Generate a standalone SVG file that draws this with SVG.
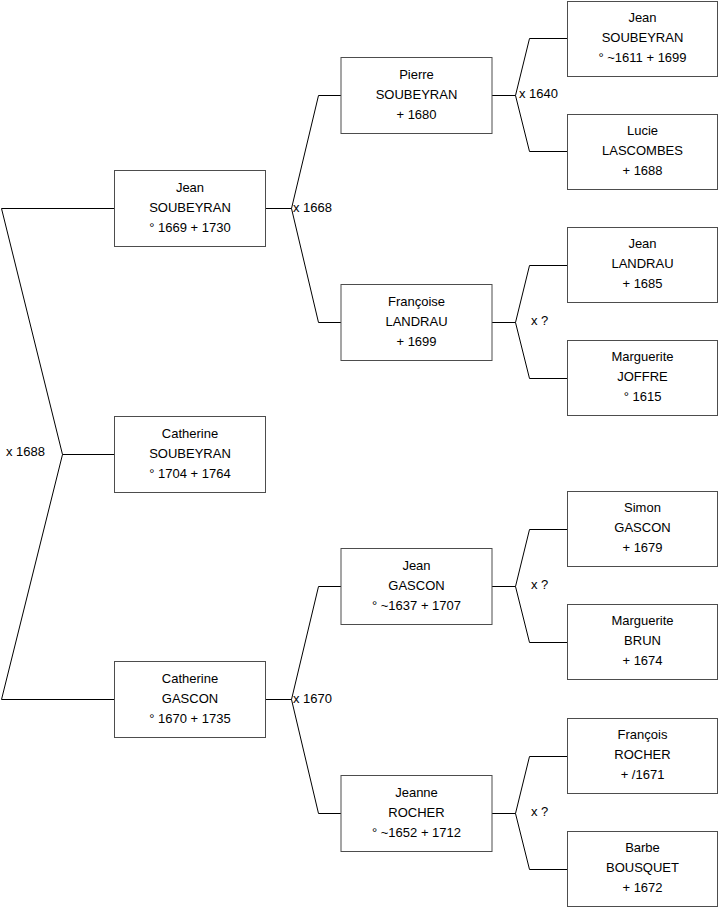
<svg xmlns="http://www.w3.org/2000/svg" width="719" height="908" viewBox="0 0 719 908">
<style>
.box{fill:#fff;stroke:#4d4d4d;stroke-width:1}
.t{font-family:"Liberation Sans",Arial,sans-serif;font-size:13px;fill:#000;text-anchor:middle;dominant-baseline:central}
.l{font-family:"Liberation Sans",Arial,sans-serif;font-size:13px;fill:#000;dominant-baseline:central}
.c{fill:none;stroke:#000;stroke-width:1}
</style>
<rect width="719" height="908" fill="#fff"/>
<g id="connectors">
<polyline class="c" points="114.5,208.5 1.5,208.5 62.5,454.5 1.5,699.5 114.5,699.5"/>
<line class="c" x1="62.5" y1="454.5" x2="114.5" y2="454.5"/>
<polyline class="c" points="341,95.5 318.5,95.5 291.5,208.5 318.5,322.5 341,322.5"/>
<line class="c" x1="265.5" y1="208.5" x2="291.5" y2="208.5"/>
<polyline class="c" points="341,586.5 318.5,586.5 291.5,699.5 318.5,813.5 341,813.5"/>
<line class="c" x1="265.5" y1="699.5" x2="291.5" y2="699.5"/>
<polyline class="c" points="567.5,38.5 529.5,38.5 515.5,95.5 529.5,151.5 567.5,151.5"/>
<line class="c" x1="492" y1="95.5" x2="515.5" y2="95.5"/>
<polyline class="c" points="567.5,265.5 529.5,265.5 515.5,322.5 529.5,378.5 567.5,378.5"/>
<line class="c" x1="492" y1="322.5" x2="515.5" y2="322.5"/>
<polyline class="c" points="567.5,529.5 529.5,529.5 515.5,586.5 529.5,642.5 567.5,642.5"/>
<line class="c" x1="492" y1="586.5" x2="515.5" y2="586.5"/>
<polyline class="c" points="567.5,756.5 529.5,756.5 515.5,813.5 529.5,869.5 567.5,869.5"/>
<line class="c" x1="492" y1="813.5" x2="515.5" y2="813.5"/>
<text class="l" x="6" y="451">x 1688</text>
<text class="l" x="293" y="207">x 1668</text>
<text class="l" x="293" y="698">x 1670</text>
<text class="l" x="519" y="93">x 1640</text>
<text class="l" x="531" y="320">x ?</text>
<text class="l" x="531" y="584">x ?</text>
<text class="l" x="531" y="811">x ?</text>
</g>
<g id="n1"><rect class="box" x="114.5" y="170.5" width="151" height="76"/><text class="t" x="190" y="187">Jean</text><text class="t" x="190" y="207">SOUBEYRAN</text><text class="t" x="190" y="227">° 1669 + 1730</text></g>
<g id="n2"><rect class="box" x="114.5" y="416.5" width="151" height="76"/><text class="t" x="190" y="433">Catherine</text><text class="t" x="190" y="453">SOUBEYRAN</text><text class="t" x="190" y="473">° 1704 + 1764</text></g>
<g id="n3"><rect class="box" x="114.5" y="661.5" width="151" height="76"/><text class="t" x="190" y="678">Catherine</text><text class="t" x="190" y="698">GASCON</text><text class="t" x="190" y="718">° 1670 + 1735</text></g>
<g id="n4"><rect class="box" x="341" y="57.5" width="151" height="76"/><text class="t" x="416.5" y="74">Pierre</text><text class="t" x="416.5" y="94">SOUBEYRAN</text><text class="t" x="416.5" y="114">+ 1680</text></g>
<g id="n5"><rect class="box" x="341" y="284.5" width="151" height="76"/><text class="t" x="416.5" y="301">Françoise</text><text class="t" x="416.5" y="321">LANDRAU</text><text class="t" x="416.5" y="341">+ 1699</text></g>
<g id="n6"><rect class="box" x="341" y="548.5" width="151" height="76"/><text class="t" x="416.5" y="565">Jean</text><text class="t" x="416.5" y="585">GASCON</text><text class="t" x="416.5" y="605">° ~1637 + 1707</text></g>
<g id="n7"><rect class="box" x="341" y="775.5" width="151" height="76"/><text class="t" x="416.5" y="792">Jeanne</text><text class="t" x="416.5" y="812">ROCHER</text><text class="t" x="416.5" y="832">° ~1652 + 1712</text></g>
<g id="n8"><rect class="box" x="567.5" y="1.5" width="150" height="75"/><text class="t" x="642.5" y="17">Jean</text><text class="t" x="642.5" y="37">SOUBEYRAN</text><text class="t" x="642.5" y="57">° ~1611 + 1699</text></g>
<g id="n9"><rect class="box" x="567.5" y="114.5" width="150" height="75"/><text class="t" x="642.5" y="130">Lucie</text><text class="t" x="642.5" y="150">LASCOMBES</text><text class="t" x="642.5" y="170">+ 1688</text></g>
<g id="n10"><rect class="box" x="567.5" y="227.5" width="150" height="75"/><text class="t" x="642.5" y="243">Jean</text><text class="t" x="642.5" y="263">LANDRAU</text><text class="t" x="642.5" y="283">+ 1685</text></g>
<g id="n11"><rect class="box" x="567.5" y="340.5" width="150" height="75"/><text class="t" x="642.5" y="356">Marguerite</text><text class="t" x="642.5" y="376">JOFFRE</text><text class="t" x="642.5" y="396">° 1615</text></g>
<g id="n12"><rect class="box" x="567.5" y="491.5" width="150" height="75"/><text class="t" x="642.5" y="507">Simon</text><text class="t" x="642.5" y="527">GASCON</text><text class="t" x="642.5" y="547">+ 1679</text></g>
<g id="n13"><rect class="box" x="567.5" y="604.5" width="150" height="75"/><text class="t" x="642.5" y="620">Marguerite</text><text class="t" x="642.5" y="640">BRUN</text><text class="t" x="642.5" y="660">+ 1674</text></g>
<g id="n14"><rect class="box" x="567.5" y="718.5" width="150" height="75"/><text class="t" x="642.5" y="734">François</text><text class="t" x="642.5" y="754">ROCHER</text><text class="t" x="642.5" y="774">+ /1671</text></g>
<g id="n15"><rect class="box" x="567.5" y="831.5" width="150" height="75"/><text class="t" x="642.5" y="847">Barbe</text><text class="t" x="642.5" y="867">BOUSQUET</text><text class="t" x="642.5" y="887">+ 1672</text></g>
</svg>
